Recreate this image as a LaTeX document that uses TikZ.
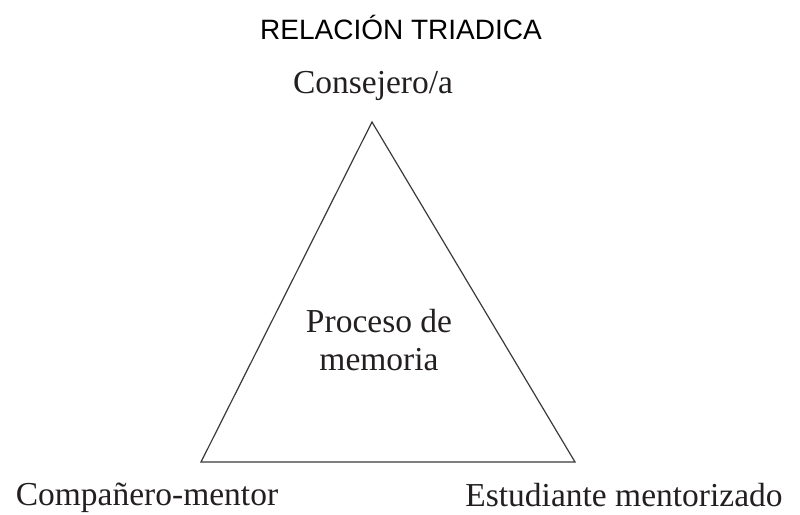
\documentclass[tikz,border=0pt]{standalone}
\usepackage{fontspec}
\setmainfont{Liberation Serif}
\newfontfamily\headfont{Liberation Sans}
\usepackage{xcolor}
\usepackage{tikz}
\usetikzlibrary{positioning}

\definecolor{edgegray}{HTML}{3A3A3A}
\definecolor{inkdark}{HTML}{231F20}

\begin{document}
\begin{tikzpicture}[
        x=1pt, y=-1pt,
        heading/.style={inner sep=0pt, anchor=base, font=\headfont\fontsize{28}{32}\selectfont, text=black},
        corner/.style={inner sep=0pt, anchor=base, font=\fontsize{33.5}{38}\selectfont, text=inkdark},
        centre/.style={inner sep=0pt, align=center, font=\fontsize{33.5}{38}\selectfont, text=inkdark},
        edge/.style={draw=edgegray, line width=1.2pt, line join=miter}
    ]
        \useasboundingbox (0,0) rectangle (800,514);

        % Title
        \node[heading] (title) at (401,39) {RELACIÓN TRIADICA};

        % Triangle corners
        \coordinate (top) at (372,122);
        \coordinate (left) at (201,462);
        \coordinate (right) at (575,462);

        % Triangle
        \draw[edge] (top) -- (left) -- (right) -- cycle;

        % Labels
        \node[corner] (consejero) at (373,93) {Consejero/a};
        \node[corner] (companero) at (147,505) {Compañero-mentor};
        \node[corner] (estudiante) at (624,506) {Estudiante mentorizado};

        % Centre text
        \node[centre] (proceso) at (379,340) {Proceso de\\memoria};
    \end{tikzpicture}
\end{document}
